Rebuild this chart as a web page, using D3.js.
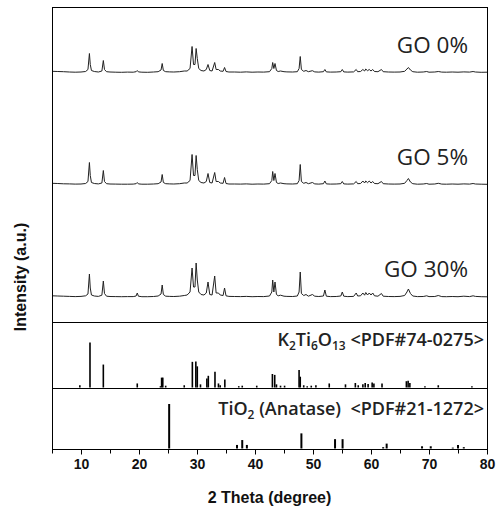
<!DOCTYPE html>
<html>
<head>
<meta charset="utf-8">
<script src="https://cdn.jsdelivr.net/npm/d3@7"></script>
<style>
  body { margin: 0; background: #fff; }
  svg { display: block; }
  .tick-lab { font-family: "Liberation Sans", Arial, sans-serif; font-weight: bold; font-size: 14px; fill: #111; }
  .ax-title { font-family: "Liberation Sans", Arial, sans-serif; font-weight: bold; font-size: 16px; fill: #111; }
  .go-lab { font-family: "Open Sans", "Noto Sans", sans-serif; font-size: 22.5px; fill: #222; }
  .ref-lab { font-family: "Open Sans", "Noto Sans", sans-serif; font-weight: 600; font-size: 18px; fill: #222; }
</style>
</head>
<body>
<div id="chart"></div>
<script>
// 2-theta grid shared by the three measured patterns
var twoTheta = [
  5, 6, 7, 8, 9, 10, 10.8, 11.2, 11.45, 11.6,
  11.8, 12.3, 13.0, 13.6, 13.85, 14.05, 14.4, 15, 16, 17,
  18, 19, 19.5, 19.7, 19.9, 20.5, 21.5, 22.5, 23.3, 23.8,
  24.0, 24.2, 24.6, 25.3, 26, 27, 27.8, 28.3, 28.8, 29.15,
  29.4, 29.65, 29.85, 30.05, 30.3, 30.7, 31.2, 31.6, 31.9, 32.2,
  32.6, 33.05, 33.3, 33.7, 34.0, 34.5, 34.75, 35.0, 35.5, 36.5,
  37.5, 38.5, 39.5, 40.5, 41.5, 42.5, 42.9, 43.05, 43.25, 43.45,
  43.7, 44.0, 44.4, 45, 45.5, 46.5, 47.3, 47.6, 47.8, 48.0,
  48.4, 48.8, 49.2, 49.9, 50.3, 51, 51.8, 52.05, 52.3, 53,
  54, 54.8, 55.05, 55.3, 56, 57, 57.45, 57.7, 58.2, 58.6,
  58.9, 59.1, 59.4, 59.7, 60.0, 60.3, 60.6, 61.2, 61.8, 62.1,
  63, 64, 65, 65.8, 66.2, 66.45, 66.8, 67.2, 68, 69,
  69.6, 70, 71, 71.6, 72.2, 73, 74, 75, 76, 77,
  77.6, 78, 79, 80
];

var go0 = [
  1.2, 1.0, 0.8, 0.5, 0.3, 0.5, 1, 3, 19, 8,
  2, 1, 0.5, 1.5, 12, 3, 0.8, 0.5, 0.3, 0.2,
  0.4, 0.3, 0.8, 2, 0.6, 0.3, 0.2, 0.5, 0.8, 2.5,
  9, 2, 0.8, 0.6, 0.5, 0.8, 1.5, 1.5, 4, 26,
  8, 8, 24, 14, 4, 2, 1.5, 3, 8, 2,
  1.5, 10, 3, 3, 1.5, 1.2, 5, 1, 0.5, 0.5,
  0.3, 0.6, 0.3, 0.5, 0.4, 0.8, 4, 10, 4, 9,
  2, 1, 1.5, 0.8, 0.6, 0.5, 0.8, 4, 16, 3,
  1.2, 2, 0.8, 1.8, 0.6, 0.4, 0.8, 3, 0.6, 0.4,
  0.5, 0.8, 3, 0.6, 0.4, 0.6, 3, 0.8, 1, 3,
  1.5, 3.5, 1.8, 3, 1.5, 3, 1, 0.8, 3, 0.8,
  0.5, 0.4, 0.5, 1.2, 3.5, 5, 2.5, 0.8, 0.3, 0.5,
  1, 0.3, 0.5, 1, 0.4, 0.3, 0.5, 0.3, 0.6, 0.4,
  1, 0.5, 0.2, 0.3
];

var go5 = [
  1.2, 1.0, 0.7, 0.6, 0.4, 0.5, 1, 3, 22, 9,
  2, 1, 0.6, 1.5, 14, 3, 0.8, 0.5, 0.4, 0.3,
  0.3, 0.4, 0.8, 2, 0.6, 0.3, 0.3, 0.5, 0.8, 2.5,
  10, 2, 0.8, 0.6, 0.5, 0.8, 1.5, 1.5, 4, 30,
  9, 9, 29, 15, 4, 2, 1.5, 3, 11, 2,
  1.5, 12, 3, 3, 1.5, 1.2, 7, 1, 0.5, 0.5,
  0.4, 0.6, 0.3, 0.5, 0.4, 0.8, 4, 13, 4, 11,
  2, 1, 1.5, 0.8, 0.6, 0.5, 0.8, 4, 20, 3,
  1.2, 2, 0.8, 2, 0.6, 0.4, 0.8, 3.5, 0.6, 0.4,
  0.5, 0.8, 3, 0.6, 0.4, 0.6, 3, 0.8, 1, 3.5,
  1.5, 3.5, 1.8, 3.5, 1.5, 3, 1, 0.8, 3, 0.8,
  0.5, 0.4, 0.5, 1.2, 4, 6, 2.5, 0.8, 0.3, 0.5,
  1, 0.3, 0.5, 1.2, 0.4, 0.3, 0.5, 0.3, 0.6, 0.4,
  1, 0.5, 0.3, 0.2
];

var go30 = [
  1.2, 1.0, 0.8, 0.6, 0.4, 0.6, 1.2, 3, 23, 9,
  2, 1, 0.6, 1.8, 16, 3.5, 0.8, 0.5, 0.4, 0.3,
  0.4, 0.4, 1, 4, 0.8, 0.3, 0.3, 0.5, 1, 3,
  12, 2.5, 0.8, 0.6, 0.5, 0.8, 1.5, 2, 5, 29,
  10, 10, 34, 17, 5, 2.5, 2, 4, 15, 2.5,
  2, 21, 4, 4, 2, 1.5, 9, 1.2, 0.6, 0.5,
  0.4, 0.6, 0.3, 0.5, 0.4, 1, 5, 17, 5, 15,
  2.5, 1.2, 1.8, 0.8, 0.6, 0.5, 1, 5, 25, 3.5,
  1.5, 2.5, 0.8, 2.5, 0.8, 0.5, 1, 7, 0.8, 0.4,
  0.5, 1, 5, 0.8, 0.4, 0.6, 4, 1, 1.2, 4,
  1.8, 4.5, 2, 4, 2, 4, 1.2, 0.8, 3.5, 0.8,
  0.5, 0.4, 0.6, 1.5, 5, 8, 3.5, 1, 0.4, 0.5,
  1.2, 0.4, 0.5, 1.5, 0.4, 0.3, 0.5, 0.3, 0.8, 0.4,
  1.2, 0.6, 0.3, 0.2
];

var sampleNames = ["GO 0%", "GO 5%", "GO 30%"];
var sampleOffsets = [249.5, 137.5, 25];   // vertical stacking, a.u.

// reference patterns (position, relative intensity)
var k2Pos = [9.8, 11.55, 13.85, 19.7, 23.7, 23.9, 24.1, 24.6, 27.8, 29.2,
  29.8, 30.05, 30.6, 31.7, 31.95, 33.1, 33.7, 34.0, 34.8, 37.2,
  37.8, 40.3, 43.0, 43.4, 43.7, 44.4, 45.1, 47.6, 47.8, 48.4,
  49.0, 49.7, 50.5, 52.8, 55.6, 57.3, 57.8, 58.6, 59.0, 59.5,
  60.2, 60.5, 61.9, 66.1, 66.4, 66.7, 69.3, 71.6, 77.4];
var k2Int = [5, 100, 51, 9, 3, 22, 22, 4, 5, 57,
  58, 47, 7, 20, 26, 35, 9, 5, 18, 3,
  4, 4, 30, 28, 7, 4, 4, 39, 24, 5,
  3, 4, 5, 9, 7, 10, 5, 7, 10, 8,
  11, 9, 9, 14, 15, 10, 3, 5, 3];

var anPos = [25.2, 36.9, 37.8, 38.6, 48.0, 53.8, 55.1, 62.1, 62.7, 68.8, 70.3, 74.1, 75.0, 76.0];
var anInt = [100, 8, 19, 8, 34, 21, 21, 3, 11, 5, 5, 2, 8, 3];

var xTicks = [10, 20, 30, 40, 50, 60, 70, 80];
var xMinor = [5, 15, 25, 35, 45, 55, 65, 75];

var W = 500, H = 509;
var left = 52, right = 487;
var mainTop = 7, mainBot = 322, kBot = 388, aBot = 449;

var svg = d3.select("#chart").append("svg")
  .attr("width", W)
  .attr("height", H);

var x = d3.scaleLinear().domain([5, 80]).range([left, right]);
var yMain = d3.scaleLinear().domain([0, 315]).range([mainBot, mainTop]);
var yK = d3.scaleLinear().domain([0, 100]).range([kBot - 0.5, kBot - 45.5]);
var yA = d3.scaleLinear().domain([0, 100]).range([aBot - 0.5, aBot - 45]);

// measured patterns
var traces = [go0, go5, go30];
var line = d3.line()
  .x(function (d) { return x(d[0]); })
  .y(function (d) { return yMain(d[1]); });

traces.forEach(function (vals, i) {
  var pts = twoTheta.map(function (t, j) { return [t, vals[j] + sampleOffsets[i]]; });
  svg.append("path")
    .datum(pts)
    .attr("d", line)
    .attr("fill", "none")
    .attr("stroke", "#222")
    .attr("stroke-width", 1)
    .attr("stroke-linejoin", "round");

  svg.append("text")
    .attr("class", "go-lab")
    .attr("x", 468)
    .attr("y", yMain(sampleOffsets[i]) - 20)
    .attr("text-anchor", "end")
    .text(sampleNames[i]);
});

// stick patterns
function drawSticks(pos, ints, yScale, w) {
  svg.append("g").selectAll("line")
    .data(pos)
    .enter()
    .append("line")
    .attr("x1", function (d) { return x(d); })
    .attr("x2", function (d) { return x(d); })
    .attr("y1", yScale(0))
    .attr("y2", function (d, i) { return yScale(ints[i]); })
    .attr("stroke", "#000")
    .attr("stroke-width", w);
}
drawSticks(k2Pos, k2Int, yK, 1.6);
drawSticks(anPos, anInt, yA, 2);

// reference labels
var kLab = svg.append("text")
  .attr("class", "ref-lab")
  .attr("x", 484)
  .attr("y", 346)
  .attr("text-anchor", "end");
kLab.append("tspan").text("K");
kLab.append("tspan").attr("font-size", "12px").attr("dy", 4).text("2");
kLab.append("tspan").attr("dy", -4).text("Ti");
kLab.append("tspan").attr("font-size", "12px").attr("dy", 4).text("6");
kLab.append("tspan").attr("dy", -4).text("O");
kLab.append("tspan").attr("font-size", "12px").attr("dy", 4).text("13");
kLab.append("tspan").attr("dy", -4).text(" <PDF#74-0275>");

var aLab = svg.append("text")
  .attr("class", "ref-lab")
  .attr("x", 484)
  .attr("y", 415)
  .attr("text-anchor", "end");
aLab.append("tspan").text("TiO");
aLab.append("tspan").attr("font-size", "12px").attr("dy", 4).text("2");
aLab.append("tspan").attr("dy", -4).text(" (Anatase)\u00a0 <PDF#21-1272>");

// frames
[[mainTop, mainBot], [mainBot, kBot], [kBot, aBot]].forEach(function (p) {
  svg.append("rect")
    .attr("x", left + 0.5)
    .attr("y", p[0] + 0.5)
    .attr("width", right - left)
    .attr("height", p[1] - p[0])
    .attr("fill", "none")
    .attr("stroke", "#000")
    .attr("stroke-width", 1);
});

// x axis
var axis = svg.append("g")
  .attr("transform", "translate(0," + (aBot + 0.5) + ")");
axis.call(d3.axisBottom(x).tickValues(xTicks).tickSize(5).tickFormat(d3.format("d")))
  .call(function (g) { g.select(".domain").remove(); });
axis.selectAll(".tick text")
  .attr("class", "tick-lab")
  .attr("font-size", null)
  .attr("font-family", null)
  .attr("y", 10);
axis.selectAll(".tick line").attr("stroke", "#000");
axis.selectAll(".minor")
  .data(xMinor)
  .enter()
  .append("line")
  .attr("x1", function (d) { return x(d) + 0.5; })
  .attr("x2", function (d) { return x(d) + 0.5; })
  .attr("y1", 0)
  .attr("y2", 4)
  .attr("stroke", "#000");

svg.append("text")
  .attr("class", "ax-title")
  .attr("x", (left + right) / 2)
  .attr("y", 503)
  .attr("text-anchor", "middle")
  .text("2 Theta (degree)");

svg.append("text")
  .attr("class", "ax-title")
  .attr("font-size", "17px")
  .attr("transform", "translate(26,277) rotate(-90)")
  .attr("text-anchor", "middle")
  .text("Intensity (a.u.)");
</script>
</body>
</html>
